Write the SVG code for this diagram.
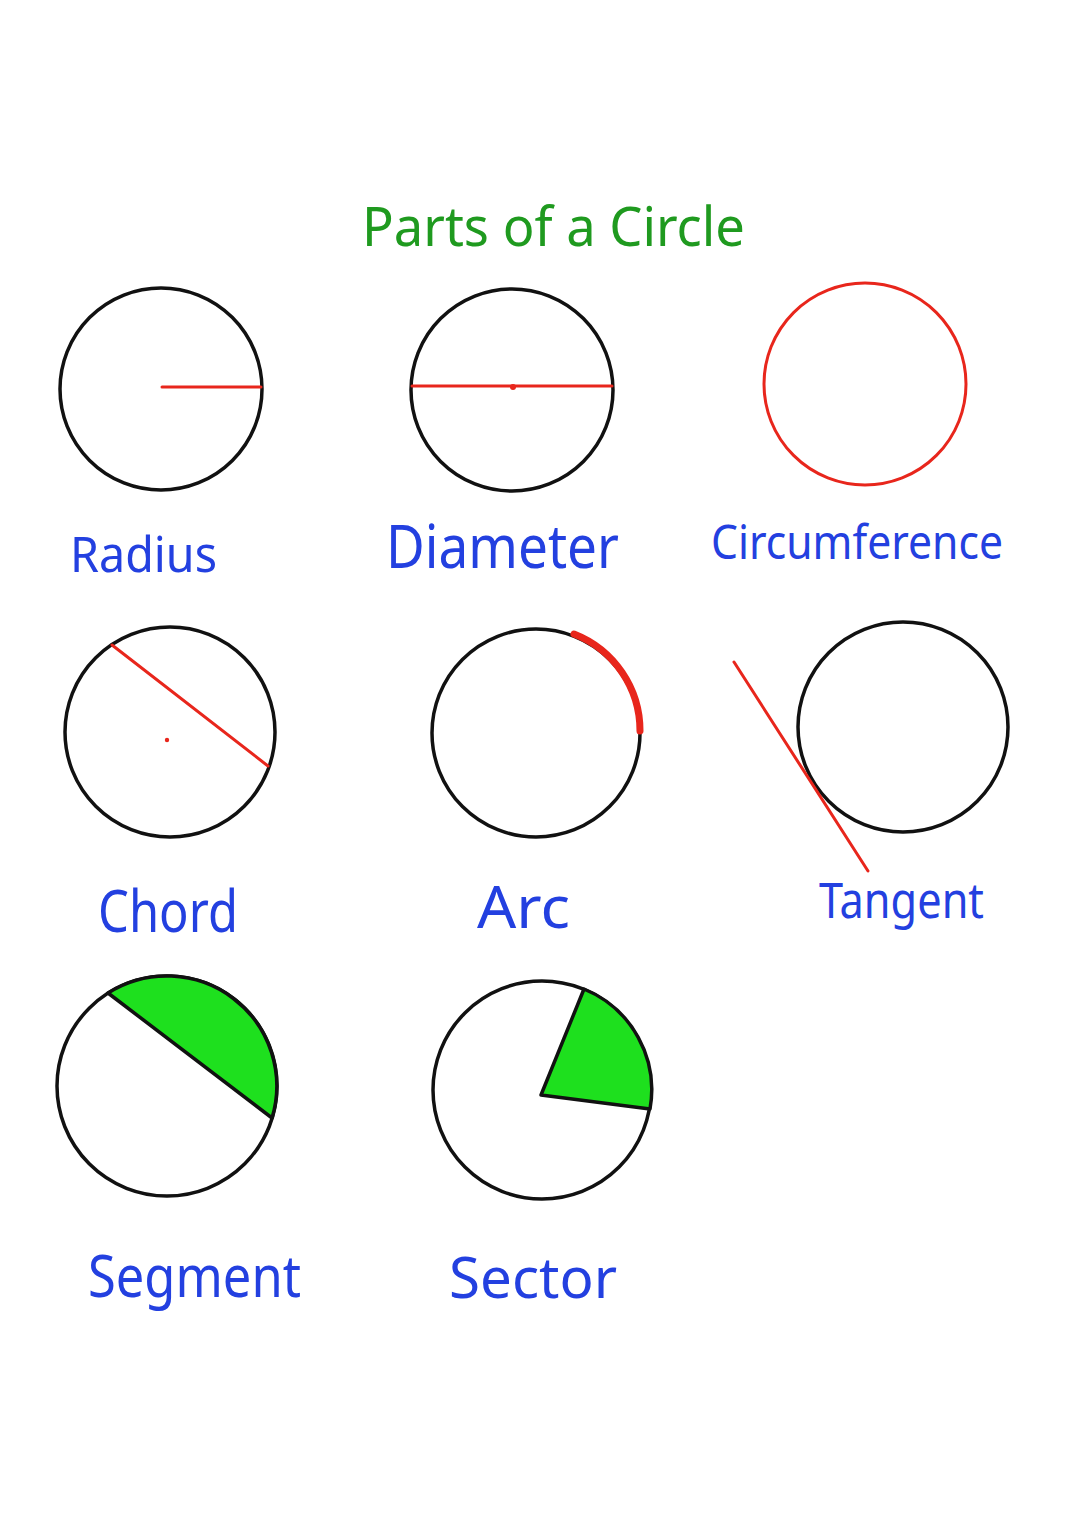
<svg xmlns="http://www.w3.org/2000/svg" width="1080" height="1528" viewBox="0 0 1080 1528">
<style>
.c{fill:none;stroke:#111;stroke-width:3.5}
.r{stroke:#e8261c;stroke-width:3;fill:none;stroke-linecap:round}
.g{fill:#1ee01e;stroke:#111;stroke-width:3.5;stroke-linejoin:round}
.lbl{font-family:"Noto Sans","DejaVu Sans",sans-serif;fill:#2340e0}
.ttl{font-family:"Noto Sans","DejaVu Sans",sans-serif;fill:#1f9a1f}
</style>
<rect width="1080" height="1528" fill="#fff"/>
<text class="ttl" x="362" y="246" font-size="54" textLength="383" lengthAdjust="spacingAndGlyphs">Parts of a Circle</text>
<g id="radius">
<circle class="c" cx="161" cy="389" r="101"/>
<line class="r" x1="162" y1="387" x2="261" y2="387" stroke-width="3.5"/>
<text class="lbl" x="70" y="572" font-size="50" textLength="147" lengthAdjust="spacingAndGlyphs">Radius</text>
</g>
<g id="diameter">
<circle class="c" cx="512" cy="390" r="101"/>
<line class="r" x1="412" y1="386" x2="612" y2="386"/>
<circle cx="513" cy="387" r="3" fill="#e8261c"/>
<text class="lbl" x="386" y="568" font-size="60" textLength="233" lengthAdjust="spacingAndGlyphs">Diameter</text>
</g>
<g id="circumference">
<circle cx="865" cy="384" r="101" fill="none" stroke="#e8261c" stroke-width="3"/>
<text class="lbl" x="711" y="559" font-size="48" textLength="292" lengthAdjust="spacingAndGlyphs">Circumference</text>
</g>
<g id="chord">
<circle class="c" cx="170" cy="732" r="105"/>
<line class="r" x1="112" y1="645" x2="268" y2="766"/>
<circle cx="167" cy="740" r="2.2" fill="#e8261c"/>
<text class="lbl" x="98" y="932" font-size="58" textLength="140" lengthAdjust="spacingAndGlyphs">Chord</text>
</g>
<g id="arc">
<circle class="c" cx="536" cy="733" r="104"/>
<path d="M574 634 A104 104 0 0 1 640 731" fill="none" stroke="#e8261c" stroke-width="7" stroke-linecap="round"/>
<text class="lbl" x="477" y="928" font-size="58" textLength="93" lengthAdjust="spacingAndGlyphs">Arc</text>
</g>
<g id="tangent">
<circle class="c" cx="903" cy="727" r="105"/>
<line class="r" x1="734" y1="662" x2="868" y2="871"/>
<text class="lbl" x="819" y="918" font-size="50" textLength="165" lengthAdjust="spacingAndGlyphs">Tangent</text>
</g>
<g id="segment">
<circle class="c" cx="167" cy="1086" r="110"/>
<path class="g" d="M108 993 A110 110 0 0 1 272 1118 Z"/>
<text class="lbl" x="88" y="1297" font-size="58" textLength="213" lengthAdjust="spacingAndGlyphs">Segment</text>
</g>
<g id="sector">
<circle class="c" cx="542" cy="1090" r="109"/>
<path class="g" d="M541 1095 L584 989 A109 109 0 0 1 650 1109 Z"/>
<text class="lbl" x="449" y="1298" font-size="56" textLength="168" lengthAdjust="spacingAndGlyphs">Sector</text>
</g>
<g id="connectors"></g>
</svg>
